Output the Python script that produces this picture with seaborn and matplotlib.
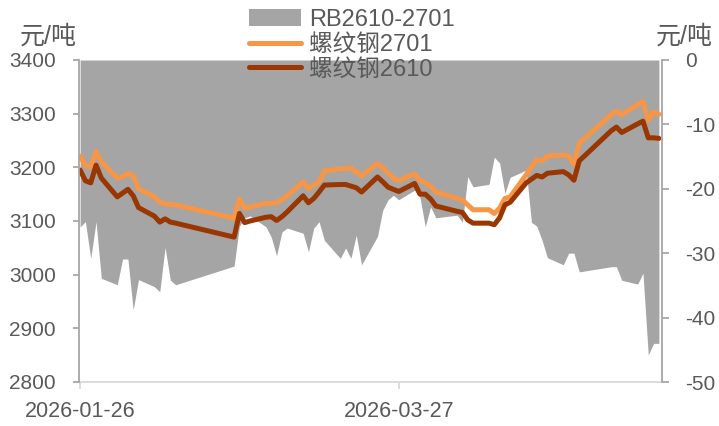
import pandas as pd
import matplotlib
matplotlib.use("Agg")
import matplotlib.pyplot as plt
from matplotlib.patches import Patch
from matplotlib.lines import Line2D
import seaborn as sns

# trading days (spring festival, qingming and labour day gaps left out)
trade_days = (
    ["2026-01-%02d" % d for d in (26, 27, 28, 29, 30)]
    + ["2026-02-%02d" % d for d in (2, 3, 4, 5, 6, 9, 10, 11, 12, 13, 24, 25, 26, 27)]
    + ["2026-03-%02d" % d for d in (2, 3, 4, 5, 6, 9, 10, 11, 12, 13, 16, 17, 18, 19, 20,
                                     23, 24, 25, 26, 27, 30, 31)]
    + ["2026-04-%02d" % d for d in (1, 2, 3, 7, 8, 9, 10, 13, 14, 15, 16, 17, 20, 21, 22,
                                     23, 24, 27, 28, 29, 30)]
    + ["2026-05-%02d" % d for d in (6, 7, 8, 11, 12, 13, 14, 15)]
)

rb2701 = [3221, 3203, 3201, 3229, 3210,
          3180, 3182, 3189, 3184, 3160, 3145, 3135, 3132, 3131, 3130, 3105, 3141, 3124, 3126,
          3133, 3133, 3134, 3139, 3147, 3173, 3160, 3167, 3173, 3193, 3197, 3198, 3199, 3191,
          3184, 3207, 3199, 3189, 3180, 3175, 3188, 3176,
          3171, 3165, 3154, 3142, 3139, 3130, 3121, 3121, 3114, 3124, 3142, 3145, 3186, 3201,
          3214, 3212, 3221, 3223, 3221, 3206, 3245,
          3298, 3305, 3298, 3317, 3322, 3288, 3303, 3299]

rb2610 = [3195, 3175, 3171, 3204, 3180,
          3145, 3152, 3159, 3147, 3125, 3109, 3098, 3104, 3098, 3096, 3070, 3114, 3097, 3100,
          3107, 3108, 3101, 3108, 3117, 3147, 3134, 3142, 3154, 3167, 3168, 3168, 3165, 3162,
          3154, 3182, 3173, 3163, 3159, 3155, 3170, 3150,
          3150, 3141, 3128, 3118, 3116, 3102, 3096, 3096, 3093, 3106, 3130, 3135, 3171, 3178,
          3185, 3182, 3189, 3192, 3186, 3176, 3212,
          3268, 3275, 3265, 3281, 3286, 3255, 3255, 3254]

spread = [-25.9, -25.1, -30.8, -25.1, -33.9,
          -34.9, -30.9, -30.9, -38.8, -34.1, -35.2, -36.0, -29.1, -34.2, -34.9, -32.0, -25.8,
          -24.5, -24.2,
          -25.9, -27.5, -30.4, -26.7, -26.1, -26.9, -29.8, -26.1, -25.1, -28.0, -30.8, -29.2,
          -30.8, -27.2, -31.8, -27.4, -23.3, -21.7, -21.0, -21.7, -20.2, -21.3,
          -25.9, -22.8, -24.5, -24.1, -25.2, -18.1, -19.7, -19.3, -15.1, -16.0, -20.7, -18.2,
          -17.1, -25.2, -25.8, -28.0, -30.7, -31.8, -30.0, -30.0, -32.9,
          -32.1, -32.1, -34.2, -34.8, -33.1, -45.8, -44.0, -44.0]

x_ticks = ["2026-01-26", "2026-03-27"]
legend_labels = ["RB2610-2701", "螺纹钢2701", "螺纹钢2610"]

df = pd.DataFrame({"date": pd.to_datetime(trade_days), "rb2701": rb2701,
                   "rb2610": rb2610, "spread": spread})

sns.set_theme(style="white")
plt.rcParams["font.family"] = ["Liberation Sans", "Noto Sans CJK SC"]
plt.rcParams["axes.unicode_minus"] = False

TXT = "#595959"
AXC = "#A6A6A6"
GRAY = "#A5A5A5"
ORANGE = "#F79646"
BROWN = "#9A3600"
LW = 3.6

fig = plt.figure(figsize=(7.19, 4.26), dpi=100)
ax = fig.add_axes([79 / 719, 1 - 382 / 426, (662 - 79) / 719, (382 - 60) / 426])
ax2 = ax.twinx()

# spread area on the right axis
ax.fill_between(df["date"], 0, df["spread"], color=GRAY, lw=0)
ax.set_ylim(-50, 0)
ax.set_yticks([0, -10, -20, -30, -40, -50])
ax.yaxis.tick_right()

# prices on the left axis
sns.lineplot(data=df, x="date", y="rb2701", ax=ax2, color=ORANGE, lw=LW)
sns.lineplot(data=df, x="date", y="rb2610", ax=ax2, color=BROWN, lw=LW)
ax2.set_ylim(2800, 3400)
ax2.set_yticks(range(2800, 3401, 100))
ax2.yaxis.tick_left()
for a in (ax, ax2):
    a.set_xlabel("")
    a.set_ylabel("")

ax.set_xlim(pd.Timestamp("2026-01-26") - pd.Timedelta(hours=5),
            pd.Timestamp("2026-05-15") + pd.Timedelta(hours=14))
ax.set_xticks(pd.to_datetime(x_ticks))
ax.set_xticklabels(x_ticks, fontsize=15.5, color=TXT)

for a in (ax, ax2):
    for s in a.spines.values():
        s.set_visible(False)
for side in ("left", "right"):
    ax2.spines[side].set_visible(True)
    ax2.spines[side].set_color(AXC)
    ax2.spines[side].set_linewidth(1.3)
ax.spines["bottom"].set_visible(True)
ax.spines["bottom"].set_color("#D9D9D9")
ax.spines["bottom"].set_linewidth(1.3)

ax2.tick_params(axis="y", which="both", left=True, right=False, direction="out",
                length=4.5, width=1.3, color=AXC, labelsize=15, labelcolor=TXT, pad=12)
ax.tick_params(axis="y", which="both", right=True, left=False, direction="out",
               length=5, width=1.3, color=AXC, labelsize=15, labelcolor=TXT, pad=12)
ax.tick_params(axis="x", bottom=True, direction="out", length=5, width=1.3,
               color="#D9D9D9", pad=9)
for lab in ax.get_yticklabels():
    lab.set_horizontalalignment("left")

fig.text(20 / 719, 1 - 37 / 426, "元/吨", ha="left", va="center", fontsize=18, color=TXT)
fig.text(656 / 719, 1 - 37 / 426, "元/吨", ha="left", va="center", fontsize=18, color=TXT)

handles = [Patch(facecolor=GRAY, edgecolor="none"),
           Line2D([], [], color=ORANGE, lw=LW, solid_capstyle="round"),
           Line2D([], [], color=BROWN, lw=LW, solid_capstyle="round")]
leg = fig.legend(handles, legend_labels, loc="upper left", bbox_to_anchor=(249 / 719, 1 - 9 / 426),
                 frameon=False, fontsize=17, labelcolor=TXT, handlelength=2.2,
                 handletextpad=0.35, labelspacing=0.12, borderpad=0, borderaxespad=0)

fig.savefig("out.png", dpi=100)
